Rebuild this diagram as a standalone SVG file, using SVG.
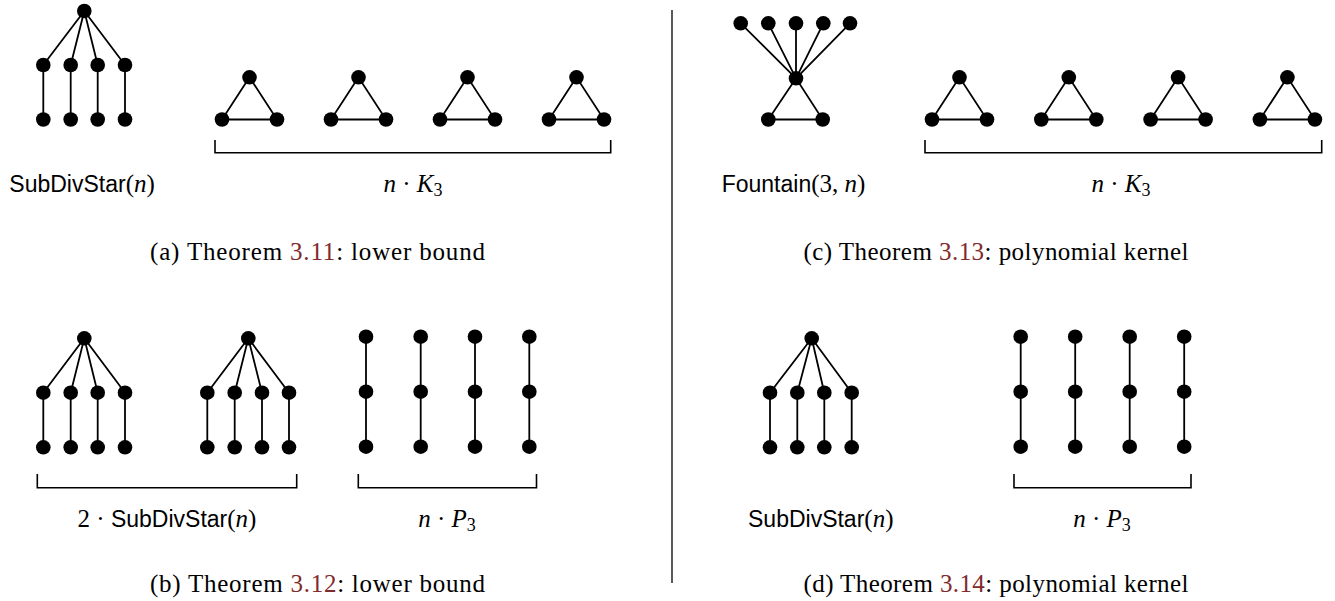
<svg xmlns="http://www.w3.org/2000/svg" width="1335" height="601" viewBox="0 0 1335 601">
<style>
.e{stroke:#000;stroke-width:1.8;fill:none}
.br{stroke:#000;stroke-width:1.6;fill:none}
.sep{stroke:#000;stroke-width:1.3}
circle{fill:#000}
.sf{font-family:"Liberation Sans",Arial,sans-serif;font-size:23px;fill:#000}
.m{font-family:"Liberation Serif","Times New Roman",serif;font-size:25px;fill:#000}
.i{font-style:italic}
.cap{font-family:"Liberation Serif","Times New Roman",serif;font-size:25px;fill:#000}
.ref{fill:#7f2b2b}
</style>
<defs>
<circle id="v" r="7.3"/>
</defs>
<g id="connectors">
<!-- (a) SubDivStar -->
<path class="e" d="M84.3,11L43.3,65M84.3,11L70.7,65M84.3,11L97.7,65M84.3,11L125,65M43.3,65V119.5M70.7,65V119.5M97.7,65V119.5M125,65V119.5"/>
<!-- (a) triangles -->
<path class="e" d="M249.5,77.3L222,119.5H277ZM358.5,77.3L331,119.5H386ZM467.5,77.3L440,119.5H495ZM576.5,77.3L549,119.5H604Z"/>
<path class="br" d="M215,140V152.7H610.7V140"/>
<!-- (c) Fountain -->
<path class="e" d="M796,78.3L740.7,23.3M796,78.3L768.3,23.3M796,78.3L796,23.3M796,78.3L823.3,23.3M796,78.3L850,23.3M796,78.3L768.3,119.5H822.7Z"/>
<path class="e" d="M959.5,77.3L932,119.5H987ZM1068.8,77.3L1041.3,119.5H1096.3ZM1178.1,77.3L1150.6,119.5H1205.6ZM1287.4,77.3L1259.9,119.5H1314.9Z"/>
<path class="br" d="M925,140V152.7H1321.7V140"/>
<!-- (b) two stars -->
<path class="e" d="M84.3,338.3L43.3,392.7M84.3,338.3L70.7,392.7M84.3,338.3L97.7,392.7M84.3,338.3L125,392.7M43.3,392.7V447.3M70.7,392.7V447.3M97.7,392.7V447.3M125,392.7V447.3"/>
<path class="e" d="M248.3,338.3L207.3,392.7M248.3,338.3L234.7,392.7M248.3,338.3L262,392.7M248.3,338.3L289,392.7M207.3,392.7V447.3M234.7,392.7V447.3M262,392.7V447.3M289,392.7V447.3"/>
<path class="br" d="M37.3,474V487.7H296.7V474"/>
<path class="e" d="M366,336.7V446.7M420.7,336.7V446.7M475,336.7V446.7M529.3,336.7V446.7"/>
<path class="br" d="M358.3,474V487.7H536.5V474"/>
<!-- (d) -->
<path class="e" d="M811.7,338.3L770,392.7M811.7,338.3L797.3,392.7M811.7,338.3L824.3,392.7M811.7,338.3L851.7,392.7M770,392.7V447.3M797.3,392.7V447.3M824.3,392.7V447.3M851.7,392.7V447.3"/>
<path class="e" d="M1020.7,336.7V446.7M1075.2,336.7V446.7M1129.7,336.7V446.7M1184.2,336.7V446.7"/>
<path class="br" d="M1014,474V487.7H1191V474"/>
<line class="sep" x1="672" y1="10" x2="672" y2="583"/>
</g>
<g id="a-subdivstar">
<use href="#v" x="84.3" y="11"/>
<use href="#v" x="43.3" y="65"/><use href="#v" x="70.7" y="65"/><use href="#v" x="97.7" y="65"/><use href="#v" x="125" y="65"/>
<use href="#v" x="43.3" y="119.5"/><use href="#v" x="70.7" y="119.5"/><use href="#v" x="97.7" y="119.5"/><use href="#v" x="125" y="119.5"/>
<text class="sf" x="9.3" y="192">SubDivStar<tspan class="m">(<tspan class="i">n</tspan>)</tspan></text>
</g>
<g id="a-triangles">
<use href="#v" x="249.5" y="77.3"/><use href="#v" x="222" y="119.5"/><use href="#v" x="277" y="119.5"/>
<use href="#v" x="358.5" y="77.3"/><use href="#v" x="331" y="119.5"/><use href="#v" x="386" y="119.5"/>
<use href="#v" x="467.5" y="77.3"/><use href="#v" x="440" y="119.5"/><use href="#v" x="495" y="119.5"/>
<use href="#v" x="576.5" y="77.3"/><use href="#v" x="549" y="119.5"/><use href="#v" x="604" y="119.5"/>
<text class="m" x="413" y="192" text-anchor="middle"><tspan class="i">n</tspan> · <tspan class="i">K</tspan><tspan font-size="18" dy="4">3</tspan></text>
</g>
<g id="caption-a">
<text class="cap" x="150" y="259.5" textLength="335" lengthAdjust="spacing">(a) Theorem <tspan class="ref">3.11</tspan>: lower bound</text>
</g>
<g id="c-fountain">
<use href="#v" x="740.7" y="23.3"/><use href="#v" x="768.3" y="23.3"/><use href="#v" x="796" y="23.3"/><use href="#v" x="823.3" y="23.3"/><use href="#v" x="850" y="23.3"/>
<use href="#v" x="796" y="78.3"/><use href="#v" x="768.3" y="119.5"/><use href="#v" x="822.7" y="119.5"/>
<text class="sf" x="721.7" y="192">Fountain<tspan class="m">(3, <tspan class="i">n</tspan>)</tspan></text>
</g>
<g id="c-triangles">
<use href="#v" x="959.5" y="77.3"/><use href="#v" x="932" y="119.5"/><use href="#v" x="987" y="119.5"/>
<use href="#v" x="1068.8" y="77.3"/><use href="#v" x="1041.3" y="119.5"/><use href="#v" x="1096.3" y="119.5"/>
<use href="#v" x="1178.1" y="77.3"/><use href="#v" x="1150.6" y="119.5"/><use href="#v" x="1205.6" y="119.5"/>
<use href="#v" x="1287.4" y="77.3"/><use href="#v" x="1259.9" y="119.5"/><use href="#v" x="1314.9" y="119.5"/>
<text class="m" x="1121" y="192" text-anchor="middle"><tspan class="i">n</tspan> · <tspan class="i">K</tspan><tspan font-size="18" dy="4">3</tspan></text>
</g>
<g id="caption-c">
<text class="cap" x="803.5" y="259.5" textLength="385" lengthAdjust="spacing">(c) Theorem <tspan class="ref">3.13</tspan>: polynomial kernel</text>
</g>
<g id="b-subdivstars">
<use href="#v" x="84.3" y="338.3"/>
<use href="#v" x="43.3" y="392.7"/><use href="#v" x="70.7" y="392.7"/><use href="#v" x="97.7" y="392.7"/><use href="#v" x="125" y="392.7"/>
<use href="#v" x="43.3" y="447.3"/><use href="#v" x="70.7" y="447.3"/><use href="#v" x="97.7" y="447.3"/><use href="#v" x="125" y="447.3"/>
<use href="#v" x="248.3" y="338.3"/>
<use href="#v" x="207.3" y="392.7"/><use href="#v" x="234.7" y="392.7"/><use href="#v" x="262" y="392.7"/><use href="#v" x="289" y="392.7"/>
<use href="#v" x="207.3" y="447.3"/><use href="#v" x="234.7" y="447.3"/><use href="#v" x="262" y="447.3"/><use href="#v" x="289" y="447.3"/>
<text class="sf" x="167" y="527" text-anchor="middle"><tspan class="m">2 · </tspan>SubDivStar<tspan class="m">(<tspan class="i">n</tspan>)</tspan></text>
</g>
<g id="b-paths">
<use href="#v" x="366" y="336.7"/><use href="#v" x="366" y="391.7"/><use href="#v" x="366" y="446.7"/>
<use href="#v" x="420.7" y="336.7"/><use href="#v" x="420.7" y="391.7"/><use href="#v" x="420.7" y="446.7"/>
<use href="#v" x="475" y="336.7"/><use href="#v" x="475" y="391.7"/><use href="#v" x="475" y="446.7"/>
<use href="#v" x="529.3" y="336.7"/><use href="#v" x="529.3" y="391.7"/><use href="#v" x="529.3" y="446.7"/>
<text class="m" x="447" y="527" text-anchor="middle"><tspan class="i">n</tspan> · <tspan class="i">P</tspan><tspan font-size="18" dy="4">3</tspan></text>
</g>
<g id="caption-b">
<text class="cap" x="150" y="592" textLength="335" lengthAdjust="spacing">(b) Theorem <tspan class="ref">3.12</tspan>: lower bound</text>
</g>
<g id="d-subdivstar">
<use href="#v" x="811.7" y="338.3"/>
<use href="#v" x="770" y="392.7"/><use href="#v" x="797.3" y="392.7"/><use href="#v" x="824.3" y="392.7"/><use href="#v" x="851.7" y="392.7"/>
<use href="#v" x="770" y="447.3"/><use href="#v" x="797.3" y="447.3"/><use href="#v" x="824.3" y="447.3"/><use href="#v" x="851.7" y="447.3"/>
<text class="sf" x="748" y="527">SubDivStar<tspan class="m">(<tspan class="i">n</tspan>)</tspan></text>
</g>
<g id="d-paths">
<use href="#v" x="1020.7" y="336.7"/><use href="#v" x="1020.7" y="391.7"/><use href="#v" x="1020.7" y="446.7"/>
<use href="#v" x="1075.2" y="336.7"/><use href="#v" x="1075.2" y="391.7"/><use href="#v" x="1075.2" y="446.7"/>
<use href="#v" x="1129.7" y="336.7"/><use href="#v" x="1129.7" y="391.7"/><use href="#v" x="1129.7" y="446.7"/>
<use href="#v" x="1184.2" y="336.7"/><use href="#v" x="1184.2" y="391.7"/><use href="#v" x="1184.2" y="446.7"/>
<text class="m" x="1102" y="527" text-anchor="middle"><tspan class="i">n</tspan> · <tspan class="i">P</tspan><tspan font-size="18" dy="4">3</tspan></text>
</g>
<g id="caption-d">
<text class="cap" x="803.5" y="592" textLength="385" lengthAdjust="spacing">(d) Theorem <tspan class="ref">3.14</tspan>: polynomial kernel</text>
</g>
</svg>
